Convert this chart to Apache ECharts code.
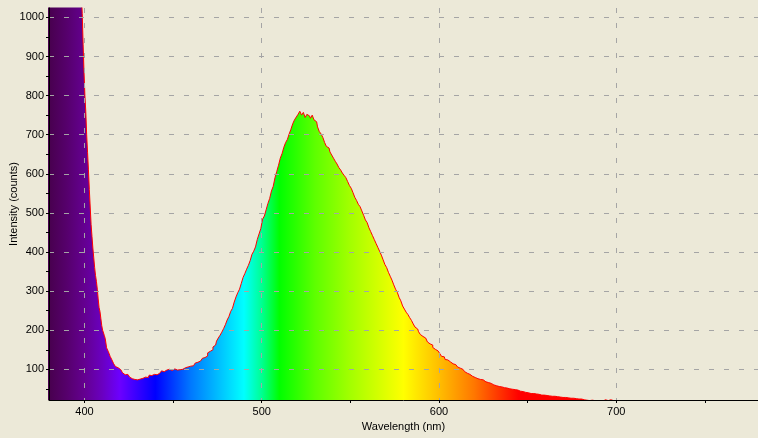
<!DOCTYPE html>
<html>
<head>
<meta charset="utf-8">
<script src="https://cdn.jsdelivr.net/npm/echarts@6/dist/echarts.min.js"></script>
<style>
	html, body { margin: 0; padding: 0; background: #ece9d8; }
	#chart { width: 758px; height: 438px; }
</style>
</head>
<body>
<div id="chart"></div>
<script>
	// steep edge of the excitation peak, sampled every 0.5 nm
	var edgeWavelengths = [378, 398, 398.5, 399, 399.5, 400, 400.5, 401, 401.5, 402,
		402.5, 403, 403.5, 404, 404.5, 405, 405.5, 406, 406.5, 407,
		407.5, 408, 408.5, 409, 409.5, 410, 410.5, 411, 411.5, 412];
	var edgeCounts = [1400, 1400, 1060, 1010, 930, 860, 800, 760, 700, 655,
		610, 560, 515, 470, 440, 410, 385, 360, 340, 325,
		305, 280, 258, 248, 230, 212, 200, 196, 186, 178];

	// rest of the spectrum, 1 nm per sample starting at 413 nm
	var spectrumStart = 413;
	var spectrumCounts = [
		155, 145, 133, 124, 114, 107, 104, 99,
		94, 91, 86, 87, 84, 80, 76, 74, 77, 73,
		75, 79, 77, 80, 78, 79, 85, 84, 87, 89,
		86, 90, 88, 96, 94, 98, 95, 100, 97, 99,
		101, 98, 102, 99, 100, 103, 104, 106, 104, 108,
		109, 112, 116, 118, 121, 125, 128, 130, 134, 142,
		146, 150, 157, 162, 172, 180, 187, 195, 204, 214,
		226, 235, 248, 256, 272, 285, 296, 305, 320, 335,
		345, 356, 366, 378, 394, 402, 413, 432, 446, 460,
		484, 492, 508, 524, 537, 556, 568, 590, 606, 622,
		640, 652, 668, 680, 688, 702, 714, 728, 738, 745,
		752, 760, 750, 757, 744, 752, 748, 742, 750, 738,
		733, 720, 708, 702, 693, 680, 670, 666, 656, 648,
		640, 632, 625, 616, 610, 602, 596, 590, 580, 570,
		563, 552, 540, 532, 522, 516, 505, 494, 482, 475,
		462, 452, 442, 432, 422, 412, 402, 392, 380, 368,
		360, 348, 338, 328, 316, 305, 297, 284, 275, 262,
		254, 246, 240, 232, 225, 216, 208, 203, 196, 189,
		184, 180, 175, 170, 165, 162, 156, 151, 147, 143,
		140, 133, 132, 125, 124, 119, 118, 114, 112, 111,
		106, 103, 100, 98, 94, 90, 87, 85, 82, 79,
		77, 76, 74, 72, 73, 68, 67, 66, 64, 62,
		60, 58, 57, 56, 55, 54, 53, 52, 51, 50,
		49, 48, 48, 47, 45, 44, 43, 43, 41, 40,
		39, 38, 38, 37, 37, 36, 35, 34, 34, 33,
		33, 32, 32, 31, 31, 30, 30, 29, 29, 28,
		28, 27, 27, 26, 26, 26, 25, 25, 24, 24,
		23, 22, 21, 20, 20, 21, 22, 20, 19, 22,
		20, 19, 21, 22, 20, 19, 22, 20, 19, 20
	];
	var tailWavelengths = [710, 780];
	var tailCounts = [18, 18];

	var xTicks = [400, 450, 500, 550, 600, 650, 700, 750];
	var xLabels = [400, 500, 600, 700];
	var yTicks = [50, 100, 150, 200, 250, 300, 350, 400, 450, 500, 550, 600, 650, 700, 750, 800, 850, 900, 950, 1000];
	var yLabels = [100, 200, 300, 400, 500, 600, 700, 800, 900, 1000];

	// wavelength -> colour of the fill under the curve
	var spectrumColors = [
		[380, '#48004e'], [390, '#56006c'], [400, '#640090'], [410, '#6a00c0'],
		[420, '#6c00ff'], [440, '#0000ff'], [460, '#0078ff'], [490, '#00ffff'],
		[500, '#00ff92'], [510, '#00ff00'], [530, '#5dff00'], [550, '#a3ff00'],
		[580, '#ffff00'], [600, '#ffbe00'], [620, '#ff7700'], [645, '#ff0000'],
		[780, '#ff0000']
	];

	var xMin = 380, xMax = 780, yMin = 21.5, yMax = 1024;
	var gridLeft = 49, gridRight = 0, gridTop = 8, gridBottom = 38;
	var plotWidth = 758 - gridLeft - gridRight;
	var font = 'Liberation Sans';

	var points = [];
	for (var i = 0; i < edgeWavelengths.length; i++) points.push([edgeWavelengths[i], edgeCounts[i]]);
	for (var j = 0; j < spectrumCounts.length; j++) points.push([spectrumStart + j, spectrumCounts[j]]);
	for (var k = 0; k < tailWavelengths.length; k++) points.push([tailWavelengths[k], tailCounts[k]]);

	var fill = new echarts.graphic.LinearGradient(gridLeft, 0, gridLeft + plotWidth, 0,
		spectrumColors.map(function (s) {
			return { offset: (s[0] - xMin) / (xMax - xMin), color: s[1] };
		}), true);

	var gridLine = { show: true, lineStyle: { color: '#a5a5a5', width: 1, type: [5, 10] } };
	var label = { color: '#000', fontSize: 11, fontFamily: font };
	var plain = function (v) { return String(v); };

	var chart = echarts.init(document.getElementById('chart'), null, { renderer: 'canvas' });
	chart.setOption({
		backgroundColor: '#ece9d8',
		animation: false,
		grid: { left: gridLeft, right: gridRight, top: gridTop, bottom: gridBottom, containLabel: false, outerBoundsMode: 'none' },
		xAxis: [{
			type: 'value', min: xMin, max: xMax, position: 'bottom', z: 5,
			name: 'Wavelength (nm)', nameLocation: 'middle', nameGap: 19,
			nameTextStyle: label,
			axisLine: { show: true, onZero: false, lineStyle: { color: '#000', width: 1 } },
			axisTick: { show: true, length: 3, customValues: xTicks, lineStyle: { color: '#000' } },
			axisLabel: Object.assign({ customValues: xLabels, margin: 6, formatter: plain }, label),
			splitLine: { show: false }
		}, {
			type: 'value', min: xMin, max: xMax, position: 'bottom', z: 5,
			axisLine: { show: false }, axisLabel: { show: false },
			axisTick: { show: false, customValues: xLabels },
			splitLine: gridLine
		}],
		yAxis: [{
			type: 'value', min: yMin, max: yMax, position: 'left', z: 5,
			name: 'Intensity (counts)', nameLocation: 'middle', nameGap: 30,
			nameMoveOverlap: false,
			nameTextStyle: label,
			axisLine: { show: true, onZero: false, lineStyle: { color: '#000', width: 1 } },
			axisTick: { show: true, length: 3, customValues: yTicks, lineStyle: { color: '#000' } },
			axisLabel: Object.assign({ customValues: yLabels, margin: 5, formatter: plain }, label),
			splitLine: { show: false }
		}, {
			type: 'value', min: yMin, max: yMax, position: 'left', z: 5,
			axisLine: { show: false }, axisLabel: { show: false },
			axisTick: { show: false, customValues: yLabels },
			splitLine: gridLine
		}],
		series: [{
			type: 'line',
			xAxisIndex: 0,
			yAxisIndex: 0,
			data: points,
			step: 'middle',
			symbol: 'none',
			clip: true,
			lineStyle: { color: '#ff0000', width: 1 },
			itemStyle: { color: '#ff0000' },
			areaStyle: { color: fill, opacity: 1 },
			z: 2
		}]
	});
</script>
</body>
</html>
